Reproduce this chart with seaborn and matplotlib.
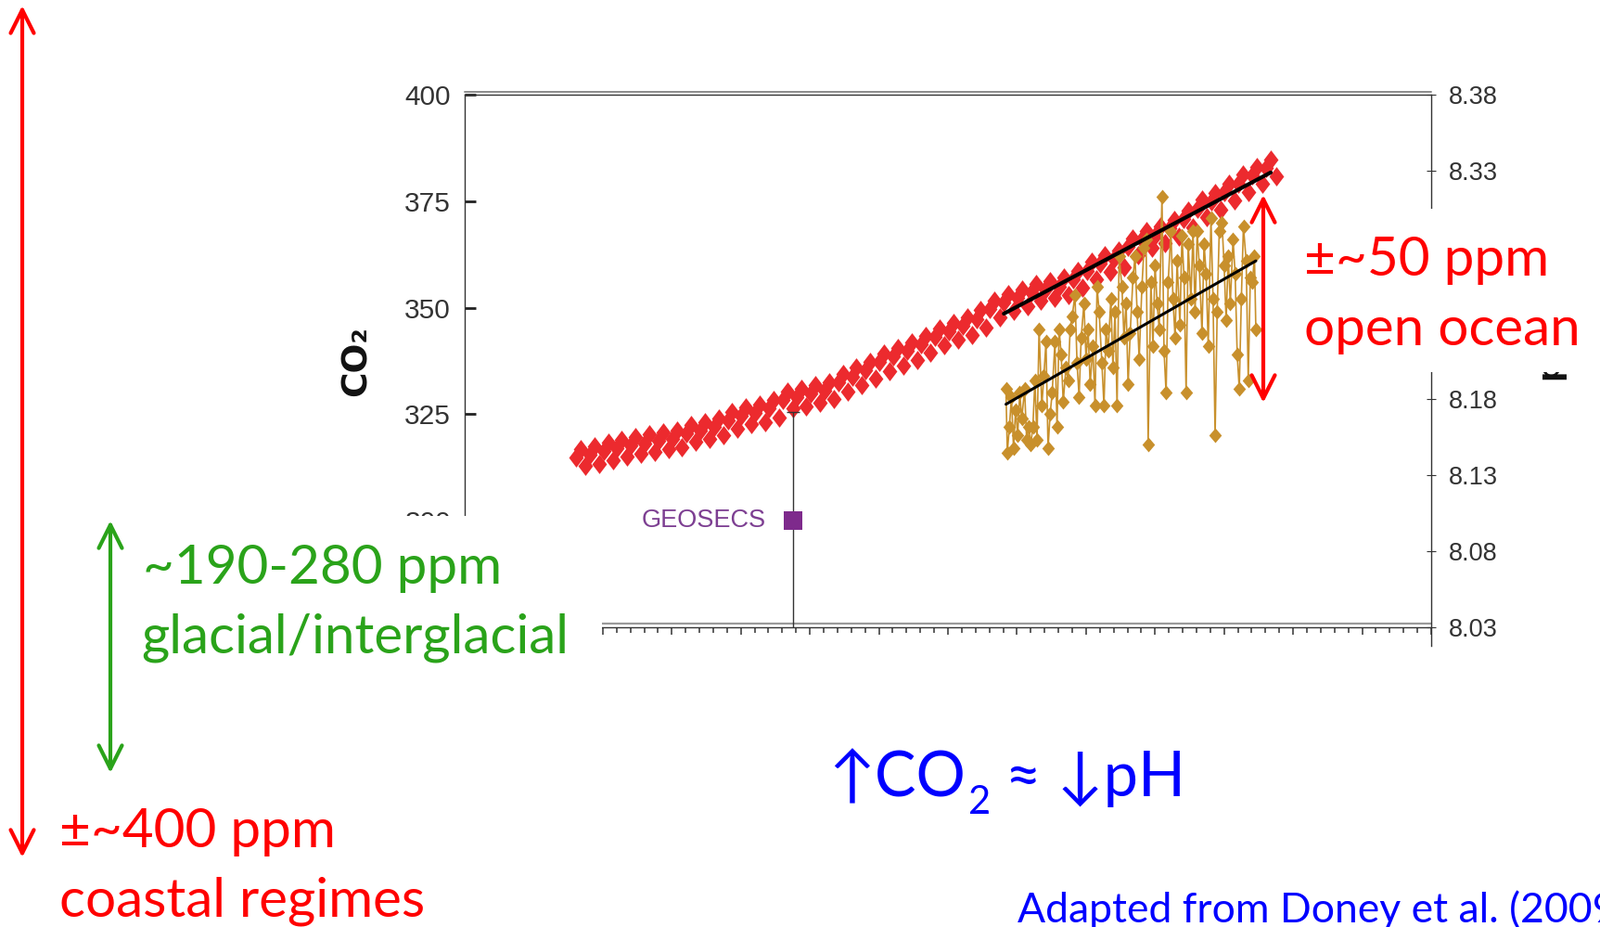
import numpy as np
import pandas as pd
import matplotlib
matplotlib.use('Agg')
import matplotlib.pyplot as plt
import matplotlib.transforms as mtransforms
import seaborn as sns
from matplotlib import font_manager
from matplotlib.patches import Rectangle, FancyArrowPatch
from matplotlib.path import Path
from matplotlib.ticker import MultipleLocator

W, H = 1725, 999

# Mauna Loa atmospheric CO2 (ppm):
# seasonal high, yearly mean and seasonal low of each year
ml_years = list(range(1958, 2009))
ml_high = [316.8, 317.4, 318.3, 319.0, 319.7, 320.2, 320.8, 321.2, 322.5, 323.2,
           324.0, 325.5, 326.6, 327.2, 328.3, 330.4, 330.9, 331.8, 332.6, 334.4,
           335.9, 337.3, 339.2, 340.5, 341.8, 343.4, 345.1, 346.5, 347.7, 349.4,
           351.7, 353.2, 354.3, 355.6, 356.3, 357.0, 358.7, 360.7, 362.3, 363.5,
           366.3, 368.0, 369.1, 370.7, 372.8, 375.3, 376.9, 379.2, 381.2, 383.1, 384.8]
ml_mid = [314.8, 315.4, 316.3, 317.0, 317.7, 318.2, 318.8, 319.2, 320.5, 321.2,
          322.0, 323.5, 324.6, 325.2, 326.3, 328.4, 328.9, 329.8, 330.6, 332.4,
          333.9, 335.3, 337.2, 338.5, 339.8, 341.4, 343.1, 344.5, 345.7, 347.4,
          349.7, 351.2, 352.3, 353.6, 354.3, 355.0, 356.7, 358.7, 360.3, 361.5,
          364.3, 366.0, 367.1, 368.7, 370.8, 373.3, 374.9, 377.2, 379.2, 381.1, 382.8]
ml_low = [312.8, 313.4, 314.3, 315.0, 315.7, 316.2, 316.8, 317.2, 318.5, 319.2,
          320.0, 321.5, 322.6, 323.2, 324.3, 326.4, 326.9, 327.8, 328.6, 330.4,
          331.9, 333.3, 335.2, 336.5, 337.8, 339.4, 341.1, 342.5, 343.7, 345.4,
          347.7, 349.2, 350.3, 351.6, 352.3, 353.0, 354.7, 356.7, 358.3, 359.5,
          362.3, 364.0, 365.1, 366.7, 368.8, 371.3, 372.9, 375.2, 377.2, 379.1, 380.8]
mid_month, high_month, low_month = 0.05, 0.38, 0.75   # fraction of the year

# Station ALOHA surface seawater pCO2 (gold)
aloha_time = [1989.20, 1989.30, 1989.45, 1989.60, 1989.75, 1989.90, 1990.05, 1990.20, 1990.35, 1990.55,
              1990.70, 1990.85, 1991.00, 1991.15, 1991.30, 1991.45, 1991.60, 1991.80, 1991.95, 1992.10,
              1992.25, 1992.40, 1992.55, 1992.75, 1992.90, 1993.05, 1993.20, 1993.35, 1993.55, 1993.70,
              1993.85, 1994.00, 1994.20, 1994.35, 1994.50, 1994.65, 1994.85, 1995.00, 1995.15, 1995.30,
              1995.50, 1995.65, 1995.80, 1995.95, 1996.15, 1996.30, 1996.45, 1996.60, 1996.80, 1996.95,
              1997.10, 1997.25, 1997.40, 1997.60, 1997.75, 1997.90, 1998.05, 1998.20, 1998.40, 1998.55,
              1998.70, 1998.85, 1999.05, 1999.20, 1999.35, 1999.50, 1999.70, 1999.85, 2000.00, 2000.15,
              2000.30, 2000.50, 2000.65, 2000.80, 2000.95, 2001.15, 2001.30, 2001.45, 2001.60, 2001.80,
              2001.95, 2002.10, 2002.25, 2002.40, 2002.60, 2002.75, 2002.90, 2003.05, 2003.20, 2003.40,
              2003.55, 2003.70, 2003.85, 2004.05, 2004.20, 2004.35, 2004.50, 2004.65, 2004.85, 2005.00,
              2005.15, 2005.30, 2005.45, 2005.65, 2005.80, 2005.95, 2006.10, 2006.25, 2006.40, 2006.60,
              2006.75, 2006.90, 2007.05, 2007.20, 2007.30]
aloha_pco2 = [331, 316, 322, 329, 317, 326, 320, 330, 324, 331,
              319, 322, 318, 322, 333, 319, 345, 327, 334, 342,
              317, 325, 330, 342, 322, 345, 339, 328, 336, 333,
              345, 348, 353, 337, 329, 343, 351, 338, 345, 332,
              341, 327, 355, 349, 337, 327, 345, 340, 352, 336,
              349, 327, 362, 355, 343, 351, 332, 344, 357, 362,
              349, 338, 355, 364, 366, 318, 356, 341, 360, 351,
              345, 376, 340, 330, 356, 368, 352, 343, 361, 346,
              367, 357, 330, 365, 352, 368, 349, 368, 360, 344,
              365, 358, 341, 371, 352, 320, 349, 368, 370, 360,
              347, 362, 351, 366, 358, 339, 331, 352, 369, 361,
              333, 357, 356, 362, 345]

# GEOSECS point with its error bar
geosecs_year = 1973.75
geosecs_co2 = 300.0
geosecs_err = [[30.0], [25.5]]

co2_ticks = [300, 325, 350, 375, 400]
ph_ticks = [8.03, 8.08, 8.13, 8.18, 8.23, 8.28, 8.33, 8.38]
ph_hidden = [8.23, 8.28]   # covered by the text box on the slide

RED = '#FF0000'
GREEN = '#2AA31A'
BLUE = '#0000FF'
DOT_RED = '#EC2A2E'
GOLD = '#C8902C'
PURPLE = '#7E2A8C'
GREY = '#333333'

sns.set_theme(style='white')
plt.rcParams['font.family'] = ['Lato', 'DejaVu Sans']

names = {f.name for f in font_manager.fontManager.ttflist}
tickfont = 'Liberation Sans' if 'Liberation Sans' in names else 'DejaVu Sans'


def fpos(x, y):
    # pixel position (from top-left) -> figure fraction
    return x / W, 1 - y / H


fig = plt.figure(figsize=(W / 100, H / 100), dpi=100)
left, top, right, bottom = 501, 102, 1543, 676
ax = fig.add_axes([left / W, 1 - bottom / H, (right - left) / W, (bottom - top) / H])

red_diamond = Path([(0, 1), (0.76, 0), (0, -1), (-0.76, 0), (0, 1)],
                   [Path.MOVETO, Path.LINETO, Path.LINETO, Path.LINETO, Path.CLOSEPOLY])
gold_diamond = Path([(0, 1), (0.85, 0), (0, -1), (-0.85, 0), (0, 1)],
                    [Path.MOVETO, Path.LINETO, Path.LINETO, Path.LINETO, Path.CLOSEPOLY])

ml = pd.DataFrame({
    'time': ([y + mid_month for y in ml_years] + [y + high_month for y in ml_years]
             + [y + low_month for y in ml_years]),
    'co2': ml_mid + ml_high + ml_low,
}).sort_values('time')

sns.scatterplot(data=ml, x='time', y='co2', ax=ax, marker=red_diamond, s=15 ** 2,
                color=DOT_RED, linewidth=0, zorder=2, legend=False)

aloha = pd.DataFrame({'time': aloha_time, 'pco2': aloha_pco2})
sns.lineplot(data=aloha, x='time', y='pco2', ax=ax, sort=False, estimator=None,
             color=GOLD, lw=1.2, marker=gold_diamond, markersize=11.5, markeredgewidth=0,
             zorder=3, legend=False)

recent = ml[(ml['time'] >= 1989) & (ml['time'] <= 2008.4)]
sns.regplot(data=recent, x='time', y='co2', ax=ax, scatter=False, ci=None, truncate=True,
            color='black', line_kws={'lw': 3.0, 'zorder': 4})
sns.regplot(data=aloha, x='time', y='pco2', ax=ax, scatter=False, ci=None, truncate=True,
            color='black', line_kws={'lw': 2.2, 'zorder': 4})

ax.errorbar([geosecs_year], [geosecs_co2], yerr=geosecs_err, fmt='none',
            ecolor=GREY, elinewidth=1.0, capsize=5, capthick=1.0, zorder=3)
ax.scatter([geosecs_year], [geosecs_co2], marker='s', s=14 ** 2, color=PURPLE,
           linewidth=0, zorder=5)
ax.annotate('GEOSECS', xy=(geosecs_year, geosecs_co2), xytext=(-21, 0),
            textcoords='offset points', ha='right', va='center', color='#7D3F92',
            fontsize=19.5, family=tickfont)

ax.set_xlim(1950, 2020)
ax.set_ylim(275, 400)
ax.set_xlabel('')
ax.set_ylabel('CO₂', fontsize=27, fontweight='bold', family='DejaVu Sans', color='#111111')
ax.yaxis.set_label_coords(-0.1113, 0.5)
ax.yaxis.label.set_va('center')
ax.grid(False)

ax.set_yticks(co2_ticks, labels=[str(t) for t in co2_ticks], fontsize=21.5, family=tickfont)
ax.xaxis.set_major_locator(MultipleLocator(5))
ax.xaxis.set_minor_locator(MultipleLocator(1))
ax.tick_params(axis='y', which='major', left=True, direction='in', length=8.4, width=2.0,
               color='#222222', pad=10.8, labelcolor=GREY)
ax.tick_params(axis='x', which='both', bottom=True, labelbottom=False, direction='out',
               color=GREY, width=1.1)
ax.tick_params(axis='x', which='major', length=6)
ax.tick_params(axis='x', which='minor', length=4.3)

for side in ['left', 'top', 'bottom']:
    ax.spines[side].set_color(GREY)
    ax.spines[side].set_linewidth(1.0)
ax.spines['right'].set_visible(False)

# second (grey) line of the doubled frame at top and bottom
up = mtransforms.offset_copy(ax.transAxes, fig=fig, y=2.2, units='points')
down = mtransforms.offset_copy(ax.transAxes, fig=fig, y=2.9, units='points')
ax.plot([0, 1], [1, 1], transform=up, color='#8a8a8a', lw=1.4, clip_on=False)
ax.plot([0, 1], [0, 0], transform=down, color='#9a9a9a', lw=1.6, clip_on=False)

ax2 = ax.twinx()
ax2.set_ylim(8.03, 8.38)
ax2.grid(False)
ax2.set_yticks(ph_ticks, labels=['' if v in ph_hidden else f'{v:.2f}' for v in ph_ticks],
               fontsize=19.5, family=tickfont)
ax2.tick_params(axis='y', right=True, direction='inout', length=7.2, width=0.8,
                color=GREY, pad=10, labelcolor=GREY)
for side in ['left', 'top', 'bottom']:
    ax2.spines[side].set_visible(False)
ax2.spines['right'].set_color(GREY)
ax2.spines['right'].set_linewidth(1.0)
ax2.spines['right'].set_bounds(8.018, 8.38)
ax2.set_ylabel('pH', fontsize=24, fontweight='bold', family='DejaVu Sans', color='#111111')
ax2.yaxis.set_label_coords(1.1228, 0.511)
ax2.yaxis.label.set_va('center')

# white text boxes of the slide that sit over the chart
for x0, y0, x1, y1 in [(135, 556, 649, 780), (1395, 225, W, 401)]:
    fig.add_artist(Rectangle(fpos(x0, y1), (x1 - x0) / W, (y1 - y0) / H,
                             transform=fig.transFigure, facecolor='white',
                             edgecolor='none', zorder=2))


def arrow(x, y0, y1, color):
    fig.add_artist(FancyArrowPatch(fpos(x, y0), fpos(x, y1), transform=fig.transFigure,
                                   arrowstyle='<->,head_length=0.9,head_width=0.45',
                                   mutation_scale=20, lw=3.0, color=color,
                                   shrinkA=0, shrinkB=0, zorder=4))


arrow(24, 6, 924, RED)
arrow(119, 561, 833, GREEN)
arrow(1362, 210, 434, RED)


def label(x, y, s, color, size):
    return fig.text(*fpos(x, y), s, color=color, fontsize=size, ha='left',
                    va='baseline', zorder=5)


label(64, 913, '±~400 ppm', RED, 42)
label(64, 987, 'coastal regimes', RED, 42)
label(154, 629, '~190-280 ppm', GREEN, 42)
label(152, 703, 'glacial/interglacial', GREEN, 42)
label(1406, 297, '±~50 ppm', RED, 42)
label(1406, 372, 'open ocean', RED, 42)
label(1097, 994, 'Adapted from Doney et al. (2009)', BLUE, 32)

# "↑CO2 ≈ ↓pH" with a real subscript 2
renderer = fig.canvas.get_renderer()
t1 = label(893, 858, '↑CO', BLUE, 48)
x_end = t1.get_window_extent(renderer=renderer).x1
t2 = fig.text((x_end + 3) / W, 1 - 877 / H, '2', color=BLUE, fontsize=30,
              ha='left', va='baseline', zorder=5)
x_end = t2.get_window_extent(renderer=renderer).x1
fig.text((x_end + 16) / W, 1 - 858 / H, '≈ ↓pH', color=BLUE, fontsize=48,
         ha='left', va='baseline', zorder=5)

fig.savefig('out.png', dpi=100)
